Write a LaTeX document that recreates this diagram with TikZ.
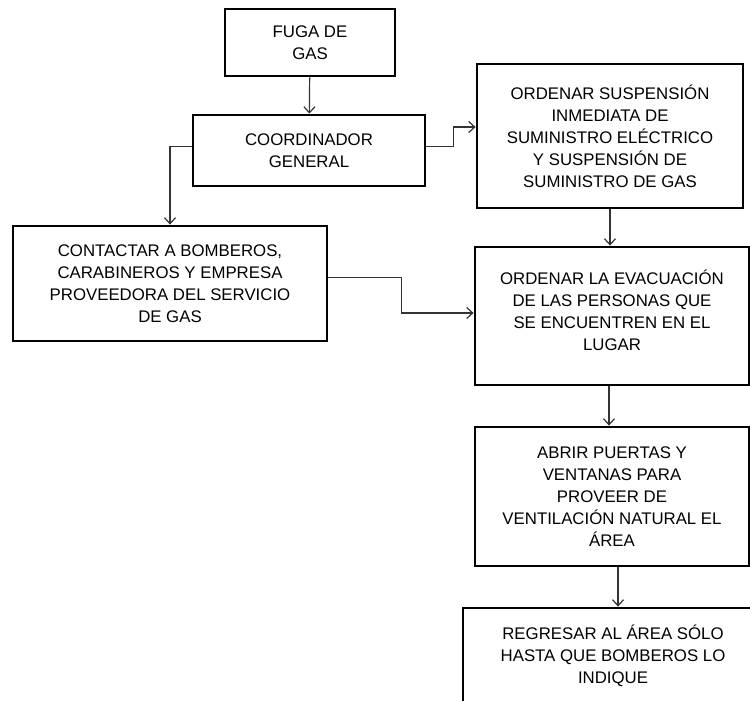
\documentclass[tikz,border=0pt]{standalone}
\usepackage{fontspec}
\setmainfont{Liberation Sans}
\usetikzlibrary{arrows.meta}

\begin{document}
\begin{tikzpicture}[
    x=1pt, y=-1pt,
    caja/.style={draw, rectangle, line width=2.8pt, align=center, inner sep=0pt, text=black, font=\fontsize{16.8}{22}\selectfont},
    flecha/.style={-{Straight Barb[length=6pt,width=11pt]}, line width=1.2pt, draw=black!80}
]
    \useasboundingbox (0,0) rectangle (750,701);
    \clip (0,0) rectangle (750,701);

    % Columna izquierda
    \node[caja, minimum width=170pt, minimum height=67pt] (fuga) at (310,42.5) {FUGA DE\\GAS};
    \node[caja, minimum width=232pt, minimum height=71pt] (coord) at (309,150.5) {COORDINADOR\\GENERAL};
    \node[caja, minimum width=314pt, minimum height=115pt] (contacto) at (170,283.5) {CONTACTAR A BOMBEROS,\\CARABINEROS Y EMPRESA\\PROVEEDORA DEL SERVICIO\\DE GAS};

    % Columna derecha
    \node[caja, minimum width=266pt, minimum height=144pt] (suspension) at (610,136) {ORDENAR SUSPENSIÓN\\INMEDIATA DE\\SUMINISTRO ELÉCTRICO\\Y SUSPENSIÓN DE\\SUMINISTRO DE GAS};
    \node[caja, minimum width=274pt, minimum height=138pt] (evacuacion) at (612,316) {ORDENAR LA EVACUACIÓN\\DE LAS PERSONAS QUE\\SE ENCUENTREN EN EL\\LUGAR\\[-10pt]\mbox{}};
    \node[caja, minimum width=274pt, minimum height=139pt] (ventilar) at (612,496.5) {ABRIR PUERTAS Y\\VENTANAS PARA\\PROVEER DE\\VENTILACIÓN NATURAL EL\\ÁREA};
    \node[caja, minimum width=300pt, minimum height=96pt] (regresar) at (613,656) {REGRESAR AL ÁREA SÓLO\\HASTA QUE BOMBEROS LO\\INDIQUE};

    % Conexiones
    \draw[flecha] (fuga) -- (coord);
    \draw[flecha] ([yshift=4pt]coord.west) -| (contacto.north);
    \draw[flecha] ([yshift=4pt]coord.east) -- ++(27,0) |- ([yshift=9pt]suspension.west);
    \draw[flecha] ([yshift=6pt]contacto.east) -- ++(73,0) |- ([yshift=3pt]evacuacion.west);
    \draw[flecha] (suspension) -- (suspension |- evacuacion.north);
    \draw[flecha] ([xshift=-3pt]evacuacion.south) -- ([xshift=-3pt]ventilar.north);
    \draw[flecha] ([xshift=6pt]ventilar.south) -- ([xshift=6pt]ventilar.south |- regresar.north);
\end{tikzpicture}
\end{document}
